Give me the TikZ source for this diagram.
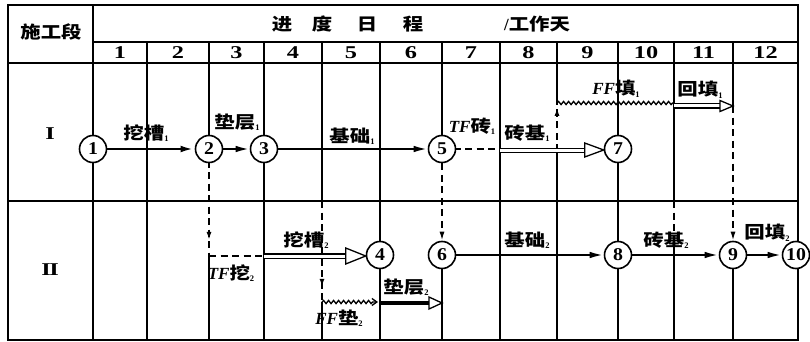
\documentclass[tikz,border=0pt]{standalone}
\usepackage{fontspec}
\setmainfont{Liberation Serif}
\newfontfamily\cjk[FakeStretch=1.2]{Noto Sans CJK SC}
\newfontfamily\numf[FakeStretch=1.35]{Liberation Serif}
\newfontfamily\cnumf[FakeStretch=1.1]{Liberation Serif}
\usetikzlibrary{arrows.meta,decorations.pathmorphing,decorations.markings,calc}
\newcommand\mysubx[1]{\raisebox{-2.5pt}{\fontsize{8.5}{8.5}\selectfont\bfseries #1}}
\newcommand\lbl[2]{{\cjk\bfseries #1}\mysubx{#2}}
\newcommand\lblit[3]{{\bfseries\itshape #1}{\cjk\bfseries #2}\mysubx{#3}}
\tikzset{
  border/.style={line width=2.2pt},
  grid/.style={line width=1.8pt},
  dsh/.style={line width=1.6pt, dash pattern=on 7pt off 4.5pt},
  arr/.style={line width=2.2pt, -{Latex[length=14pt,width=6.5pt]}},
  dbl/.style={line width=1.2pt, double distance=3pt},
  ohead/.style={line width=1.3pt, fill=white, line join=miter},
  wavy/.style={line width=1.3pt, decorate, decoration={snake, amplitude=1.6pt, segment length=5pt}},
  evt/.style={circle, draw, fill=white, line width=1.6pt, minimum size=27pt, inner sep=0pt, font=\cnumf\bfseries\fontsize{18}{18}\selectfont},
  lab/.style={font=\fontsize{17}{18}\selectfont, inner sep=0pt},
  dnum/.style={font=\numf\bfseries\fontsize{18}{18}\selectfont, inner sep=0pt},
  midarr/.style={postaction={decorate}, decoration={markings, mark=at position #1 with {\arrow{Latex[length=8pt,width=5pt]}}}}
}
\begin{document}
\begin{tikzpicture}[x=1pt,y=-1pt]
\useasboundingbox (0,0) rectangle (810,342);
% ---- table frame
\draw[border] (8,5) rectangle (798,340);
\draw[grid] (93,5) -- (93,340);
\draw[grid] (93,42) -- (798,42);
\draw[grid] (8,63) -- (798,63);
\draw[grid] (8,201) -- (798,201);
\foreach \x in {147,264,380,500,618} \draw[grid] (\x,42) -- (\x,340);
\draw[grid] (209,42) -- (209,149); \draw[grid] (209,256) -- (209,340);
\draw[grid] (322,42) -- (322,201); \draw[grid] (322,302) -- (322,340);
\draw[grid] (442,42) -- (442,149); \draw[grid] (442,255) -- (442,340);
\draw[grid] (557,42) -- (557,103); \draw[grid] (557,151) -- (557,340);
\draw[grid] (674,42) -- (674,201); \draw[grid] (674,255) -- (674,340);
\draw[grid] (733,42) -- (733,106); \draw[grid] (733,255) -- (733,340);
% ---- header texts
\node[lab] (hsec) at (51,32) {\cjk\bfseries 施工段};
\node[lab] (hjin) at (282,24) {\cjk\bfseries 进};
\node[lab] (hdu) at (322,24) {\cjk\bfseries 度};
\node[lab] (hri) at (367,24) {\cjk\bfseries 日};
\node[lab] (hcheng) at (413,24) {\cjk\bfseries 程};
\node[lab] (hunit) at (537,24) {\bfseries /\cjk 工作天};
\node[dnum] (d1) at (120,53) {1};
\node[dnum] (d2) at (178,53) {2};
\node[dnum] (d3) at (236.5,53) {3};
\node[dnum] (d4) at (293,53) {4};
\node[dnum] (d5) at (351,53) {5};
\node[dnum] (d6) at (411,53) {6};
\node[dnum] (d7) at (471,53) {7};
\node[dnum] (d8) at (528.5,53) {8};
\node[dnum] (d9) at (587.5,53) {9};
\node[dnum] (d10) at (646,53) {10};
\node[dnum] (d11) at (703.5,53) {11};
\node[dnum] (d12) at (765.5,53) {12};
\node[dnum] (r1) at (50,134) {I};
\node[dnum] (r2) at (50,270) {I\kern-1.5ptI};
% ---- free points
\coordinate (t1) at (500,149);
\coordinate (w1s) at (557,103);
\coordinate (w1e) at (674,103);
\coordinate (h1s) at (674,106);
\coordinate (h1e) at (733,106);
\coordinate (c557) at (557,151);
\coordinate (q209) at (209,256);
\coordinate (q264) at (264,256);
\coordinate (v322a) at (322,201);
\coordinate (w2s) at (322,302);
\coordinate (w2e) at (378,302);
\coordinate (b2s) at (380,303);
\coordinate (b2e) at (442,303);
\coordinate (v674a) at (674,201);
\coordinate (v674b) at (674,255);
% ---- dashed virtual links and wavy lines
\draw[dsh, midarr=0.85] (209,149) -- (q209);
\draw[dsh] (q209) -- (q264);
\draw[dsh, midarr=0.85] (v322a) -- (w2s);
\draw[dsh, midarr=0.9] (c557) -- (w1s);
\draw[dsh] (v674a) -- (v674b);
\draw[dsh] (442,149) -- (t1);
\draw[wavy] (w1s) -- (w1e);
\draw[wavy, -{Straight Barb[length=5pt,width=7pt]}, decoration={snake, amplitude=1.6pt, segment length=5pt, post length=5pt}] (w2s) -- (w2e);
% ---- event nodes
\node[evt] (n1) at (93,149) {1};
\node[evt] (n2) at (209,149) {2};
\node[evt] (n3) at (264,149) {3};
\node[evt] (n5) at (442,149) {5};
\node[evt] (n7) at (618,149) {7};
\node[evt] (n4) at (380,255) {4};
\node[evt] (n6) at (442,255) {6};
\node[evt] (n8) at (618,255) {8};
\node[evt] (n9) at (733,255) {9};
\node[evt] (n10) at (796,255) {10};
% ---- dashed links between nodes
\draw[dsh, -{Latex[length=9pt,width=5pt]}] (n5) -- (n6);
\draw[dsh, -{Latex[length=9pt,width=5pt]}] (h1e) -- (n9);
% ---- solid arrows
\draw[arr, line width=2.6pt] (n1) -- (n2);
\draw[arr] (n2) -- (n3);
\draw[arr] (n3) -- (n5);
\draw[arr] (n6) -- (n8);
\draw[arr] (n8) -- (n9);
\draw[arr] (n9) -- (n10);
% ---- double (hollow) arrows
\draw[dbl] (t1) ++(0,1.5) -- ($(n7.west)+(-18,1.5)$);
\draw[ohead] ($(n7.west)+(0,1)$) -- ++(-19,-7) -- ++(0,14) -- cycle;
\draw[dbl] (q264) -- ($(n4.west)+(-19,1)$);
\draw[ohead] ($(n4.west)+(0,1)$) -- ++(-20,-8) -- ++(0,16) -- cycle;
\draw[dbl] (h1s) -- ($(h1e)+(-12,0)$);
\draw[ohead] (h1e) -- ++(-13,-5.5) -- ++(0,11) -- cycle;
\draw[line width=3.8pt] (b2s) -- ($(b2e)+(-12,0)$);
\draw[ohead] (b2e) -- ++(-13,-6) -- ++(0,12) -- cycle;
% ---- labels
\node[lab] (l1) at (146,133) {\lbl{挖槽}{1}};
\node[lab] (l2) at (237,122) {\lbl{垫层}{1}};
\node[lab] (l3) at (352,136) {\lbl{基础}{1}};
\node[lab] (l4) at (472,126) {\lblit{TF}{砖}{1}};
\node[lab] (l5) at (527,133) {\lbl{砖基}{1}};
\node[lab] (l6) at (616,89) {\lblit{FF}{填}{1}};
\node[lab] (l7) at (700,90) {\lbl{回填}{1}};
\node[lab] (l8) at (306,240) {\lbl{挖槽}{2}};
\node[lab] (l9) at (231,273) {\lblit{TF}{挖}{2}};
\node[lab] (l10) at (339,318) {\lblit{FF}{垫}{2}};
\node[lab] (l11) at (406,287) {\lbl{垫层}{2}};
\node[lab] (l12) at (527,240) {\lbl{基础}{2}};
\node[lab] (l13) at (666,240) {\lbl{砖基}{2}};
\node[lab] (l14) at (767,233) {\lbl{回填}{2}};
\end{tikzpicture}
\end{document}
